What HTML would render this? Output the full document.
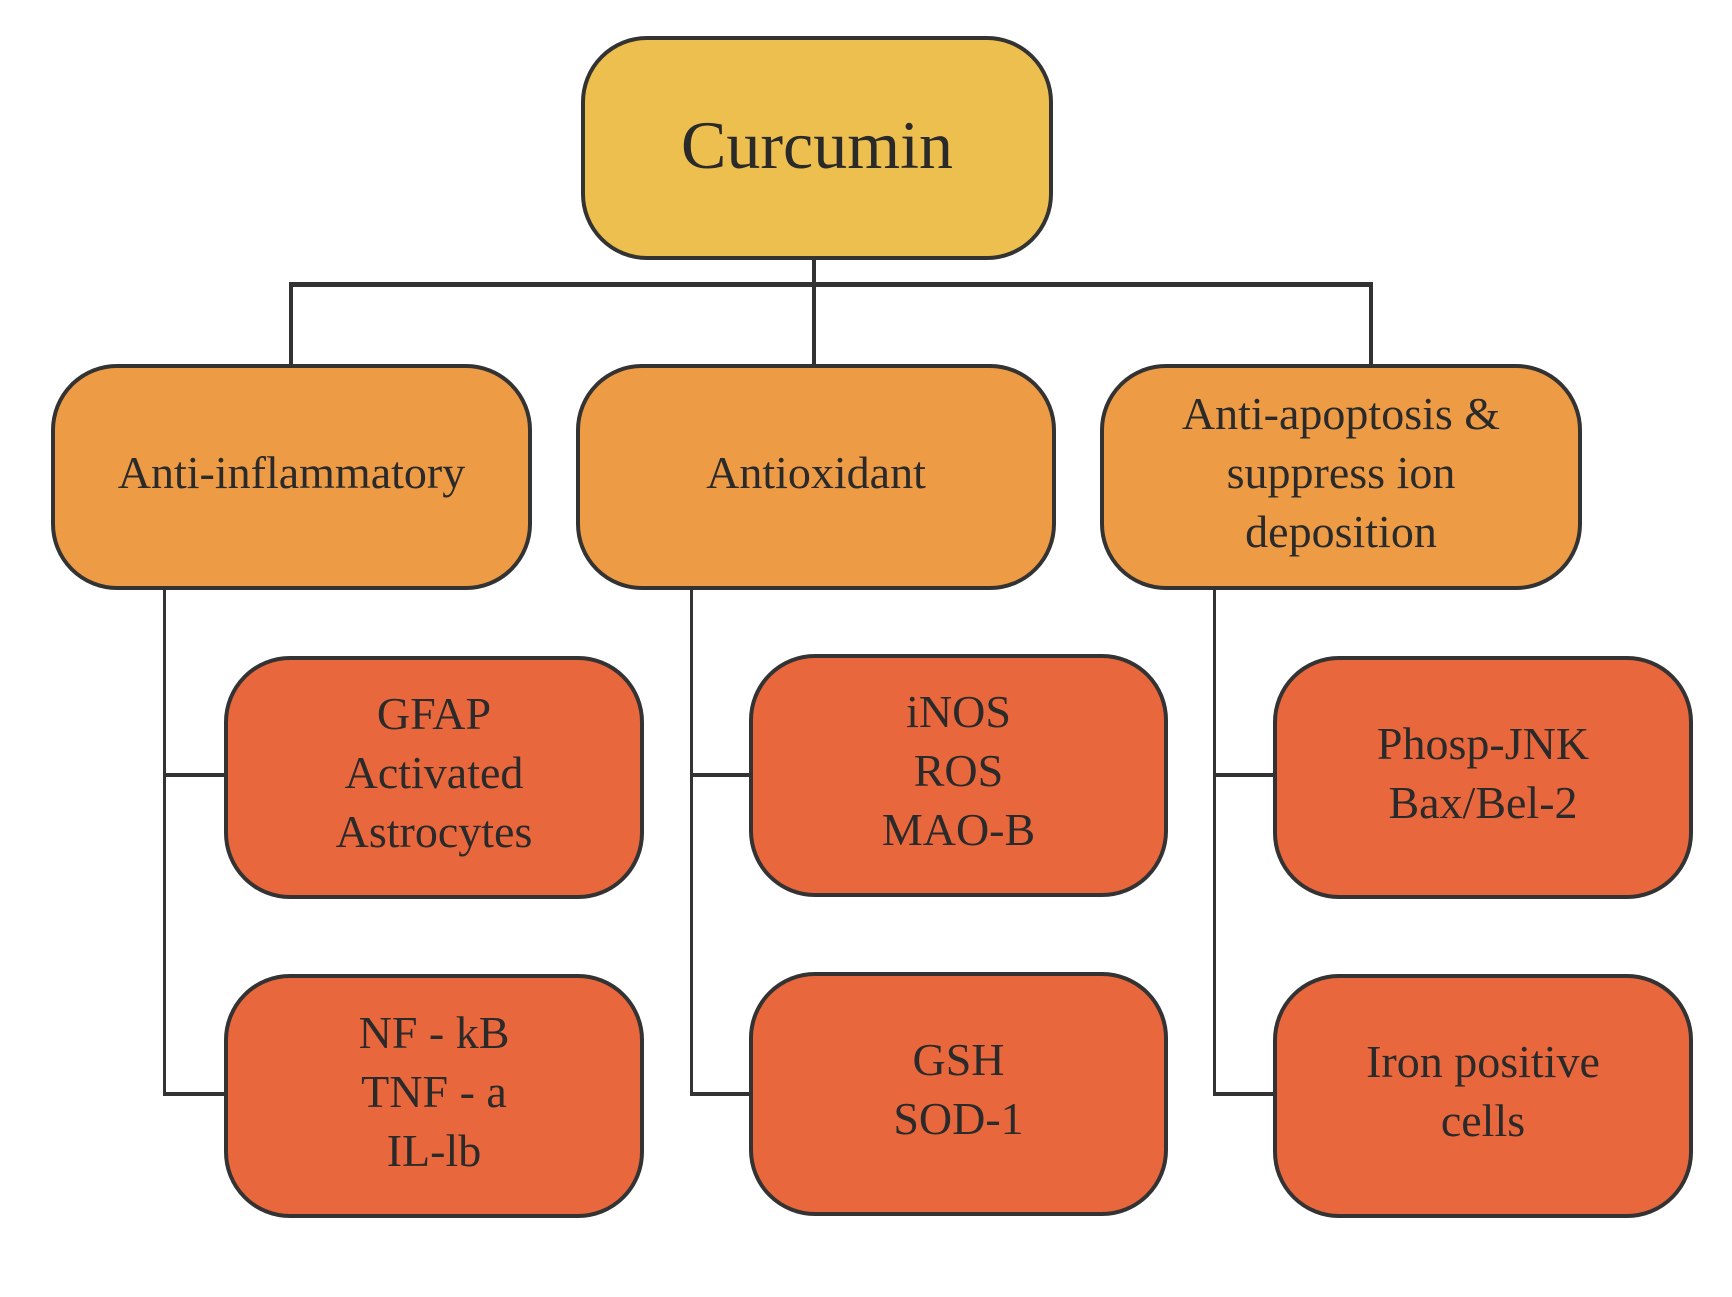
<!DOCTYPE html>
<html><head><style>
html,body{margin:0;padding:0;background:#fff;}
body{width:1732px;height:1297px;position:relative;overflow:hidden;font-family:"Liberation Serif","Times New Roman","DejaVu Serif",serif;color:#2a2a2a;}
.b{position:absolute;box-sizing:border-box;border:4px solid #333;border-radius:66px;display:flex;align-items:center;justify-content:center;text-align:center;font-size:46px;line-height:59px;padding-bottom:10px;font-family:"Liberation Serif","Times New Roman","DejaVu Serif",serif;}
.y{background:#EDBF4E;}
.o{background:#EE9B45;}
.r{background:#E9673C;}
.l{position:absolute;background:#333;}
</style></head><body>
<div class="l" style="left:812px;top:259px;width:4px;height:110px"></div>
<div class="l" style="left:289px;top:282px;width:1084px;height:5px"></div>
<div class="l" style="left:289px;top:284px;width:4px;height:85px"></div>
<div class="l" style="left:1369px;top:284px;width:4px;height:85px"></div>

<div class="l" style="left:163px;top:588px;width:3px;height:508px"></div>
<div class="l" style="left:163px;top:773px;width:64px;height:4px"></div>
<div class="l" style="left:163px;top:1092px;width:64px;height:4px"></div>

<div class="l" style="left:690px;top:588px;width:3px;height:508px"></div>
<div class="l" style="left:690px;top:773px;width:64px;height:4px"></div>
<div class="l" style="left:690px;top:1092px;width:64px;height:4px"></div>

<div class="l" style="left:1213px;top:588px;width:3px;height:508px"></div>
<div class="l" style="left:1213px;top:773px;width:64px;height:4px"></div>
<div class="l" style="left:1213px;top:1092px;width:64px;height:4px"></div>

<div class="b y" style="left:581px;top:36px;width:472px;height:224px;font-size:68px;padding-bottom:6px">Curcumin</div>

<div class="b o" style="left:51px;top:364px;width:481px;height:226px">Anti-inflammatory</div>
<div class="b o" style="left:576px;top:364px;width:480px;height:226px">Antioxidant</div>
<div class="b o" style="left:1100px;top:364px;width:482px;height:226px">Anti-apoptosis &amp;<br>suppress ion<br>deposition</div>

<div class="b r" style="left:224px;top:656px;width:420px;height:243px">GFAP<br>Activated<br>Astrocytes</div>
<div class="b r" style="left:749px;top:654px;width:419px;height:243px">iNOS<br>ROS<br>MAO-B</div>
<div class="b r" style="left:1273px;top:656px;width:420px;height:243px">Phosp-JNK<br>Bax/Bel-2</div>

<div class="b r" style="left:224px;top:974px;width:420px;height:244px">NF - kB<br>TNF - a<br>IL-lb</div>
<div class="b r" style="left:749px;top:972px;width:419px;height:244px">GSH<br>SOD-1</div>
<div class="b r" style="left:1273px;top:974px;width:420px;height:244px">Iron positive<br>cells</div>
</body></html>
